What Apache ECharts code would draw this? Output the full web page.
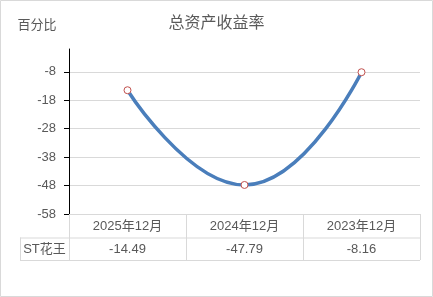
<!DOCTYPE html>
<html><head><meta charset="utf-8">
<script src="https://cdn.jsdelivr.net/npm/echarts@6/dist/echarts.min.js"></script>
<style>html,body{margin:0;padding:0;background:#fff}#c{width:433px;height:297px}</style>
</head><body><div id="c"></div>
<script>
var categories = ['2025年12月', '2024年12月', '2023年12月'];
var seriesName = 'ST花王';
var values = [-14.49, -47.79, -8.16];
var yTicks = [-58, -48, -38, -28, -18, -8];
var titleText = '总资产收益率';
var yUnit = '百分比';

var FONT = '"Liberation Sans", "Noto Sans CJK SC", sans-serif';
var GRID = '#d9d9d9';
var TXT = '#595959';
var chart = echarts.init(document.getElementById('c'), null, {renderer: 'canvas'});
var gridL = 69, gridR = 13, gridT = 49, gridB = 83;
var option = {
  animation: false,
  textStyle: {fontFamily: FONT},
  title: {text: titleText, left: 'center', top: 11,
    textStyle: {fontSize: 16, fontWeight: 'normal', color: TXT, fontFamily: FONT}},
  grid: {left: gridL, right: gridR, top: gridT, bottom: gridB, containLabel: false},
  xAxis: [{
    type: 'category', data: categories, boundaryGap: true, position: 'bottom',
    axisLine: {show: true, onZero: false, lineStyle: {color: GRID, width: 1}},
    axisTick: {show: true, interval: 0, length: 46, lineStyle: {color: GRID}},
    axisLabel: {margin: 6, fontSize: 13, color: TXT, interval: 0, fontFamily: FONT},
    splitLine: {show: false}, splitArea: {show: false}
  }, {
    type: 'category', data: values.map(function (v) { return v.toFixed(2); }),
    position: 'bottom', offset: 23, boundaryGap: true,
    axisLine: {show: false, onZero: false}, axisTick: {show: false},
    splitLine: {show: false}, splitArea: {show: false},
    axisLabel: {margin: 6, fontSize: 13, color: TXT, interval: 0, fontFamily: FONT}
  }],
  yAxis: {
    type: 'value', min: yTicks[0], max: 0, interval: 10,
    axisLine: {show: true, lineStyle: {color: '#000', width: 1}},
    axisTick: {show: true, length: 5, inside: false, customValues: yTicks, lineStyle: {color: '#000'}},
    axisLabel: {margin: 13, fontSize: 13, color: TXT, customValues: yTicks, fontFamily: FONT},
    splitLine: {show: true, lineStyle: {color: GRID, width: 1}}
  },
  series: [{
    type: 'line', name: seriesName, data: values, xAxisIndex: 0, smooth: true,
    lineStyle: {color: '#4a7ebb', width: 3.5},
    symbol: 'circle', symbolSize: 7,
    itemStyle: {color: '#fff', borderColor: '#c0504d', borderWidth: 1}
  }]
};
chart.setOption(option);

var H = 297, W = 433;
var axisY = H - gridB;
var row1 = axisY + 23.5, row2 = axisY + 46;
var tableLeft = 20, tableRight = W - gridR;
chart.setOption({
  graphic: [
    {type: 'rect', shape: {x: 0.5, y: 0.5, width: W - 1, height: H - 1}, style: {fill: 'none', stroke: GRID, lineWidth: 1}, silent: true},
    {type: 'line', shape: {x1: tableLeft, y1: row1 + 0.5, x2: tableRight, y2: row1 + 0.5}, style: {stroke: GRID, lineWidth: 1}},
    {type: 'line', shape: {x1: tableLeft, y1: row2 + 0.5, x2: tableRight, y2: row2 + 0.5}, style: {stroke: GRID, lineWidth: 1}},
    {type: 'line', shape: {x1: tableLeft + 0.5, y1: row1, x2: tableLeft + 0.5, y2: row2 + 1}, style: {stroke: GRID, lineWidth: 1}},
    {type: 'text', x: (tableLeft + gridL) / 2, y: (row1 + row2) / 2 + 1, style: {text: seriesName, fill: TXT, font: '13px ' + FONT, textAlign: 'center', textVerticalAlign: 'middle'}},
    {type: 'text', x: 37, y: 25, style: {text: yUnit, fill: TXT, font: '13px ' + FONT, textAlign: 'center', textVerticalAlign: 'middle'}}
  ]
});
</script></body></html>
